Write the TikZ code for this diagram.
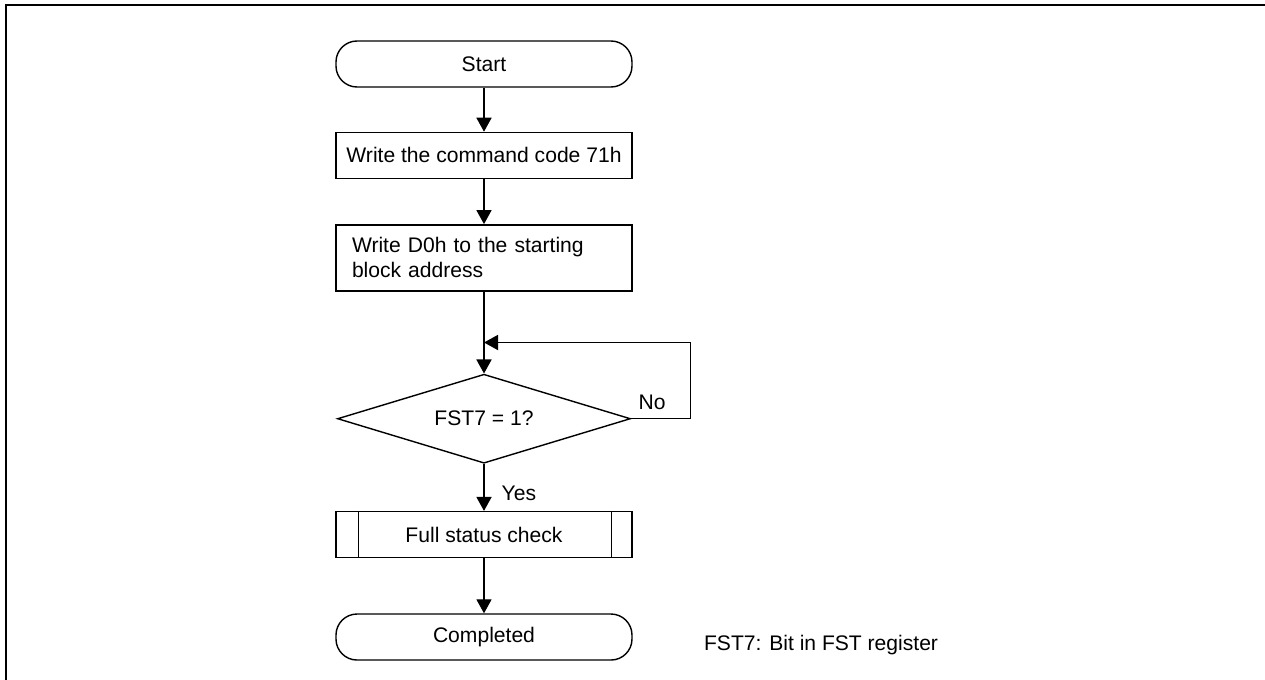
\documentclass[tikz,border=0pt]{standalone}
\usepackage{fontspec}
\setmainfont{Liberation Sans}
\usetikzlibrary{positioning,arrows.meta,shapes.geometric}

\begin{document}
\begin{tikzpicture}[
    font=\fontsize{12}{14.2}\selectfont,
    terminal/.style={rectangle, rounded corners=0.42cm, draw, line width=0.8pt,
                     minimum width=5.92cm, minimum height=0.92cm, inner sep=0},
    process/.style={rectangle, draw, line width=0.8pt, minimum width=5.92cm,
                    minimum height=0.92cm, inner sep=0, align=center},
    decision/.style={diamond, aspect=3.29, draw, line width=0.8pt, minimum width=5.86cm,
                     minimum height=1.78cm, inner sep=0},
    arrow/.style={-{Triangle[length=8pt, width=8.6pt]}, line width=0.8pt},
    note/.style={inner sep=0}
]

% Page and frame
\useasboundingbox (0,0) rectangle (25.3,-13.6);
\draw[line width=0.05cm] (0.12,-13.6) -- (0.12,-0.1) -- (25.3,-0.1);

% Start
\node[terminal] (start) at (9.68,-1.28) {Start};

% Write steps
\node[process, below=0.88cm of start] (wr1) {Write the command code 71h};
\node[process, below=0.9cm of wr1, minimum height=1.32cm, text width=5.28cm, align=left] (wr2)
    {Write D0h to the starting\\block address};

% Wait on FST7
\node[decision, below=1.64cm of wr2] (dec) {FST7 = 1?};
\coordinate[above=0.62cm of dec.north] (join);

% Status check and end
\node[process, below=0.94cm of dec] (fsc) {Full status check};
\node[terminal, below=1.1cm of fsc] (done) {Completed};

% Arrows
\draw[arrow] (start) -- (wr1);
\draw[arrow] (wr1) -- (wr2);
\draw[arrow] (wr2) -- (dec);
\draw[arrow] (dec.east) -- ++(1.18,0) |- (join);
\draw[arrow] (dec) -- node[note, right=0.34cm, pos=0.62] {Yes} (fsc);
\draw[arrow] (fsc) -- (done);

% Side bars of the predefined process
\draw[line width=0.8pt] ([xshift=0.46cm]fsc.north west) -- ([xshift=0.46cm]fsc.south west);
\draw[line width=0.8pt] ([xshift=-0.42cm]fsc.north east) -- ([xshift=-0.42cm]fsc.south east);

% Labels
\node[note, anchor=base west] (lblno) at ([xshift=0.14cm, yshift=0.19cm]dec.east) {No};
\node[note, right=1.42cm of done.east, yshift=-0.16cm] (fstnote) {FST7: Bit in FST register};

\end{tikzpicture}
\end{document}
